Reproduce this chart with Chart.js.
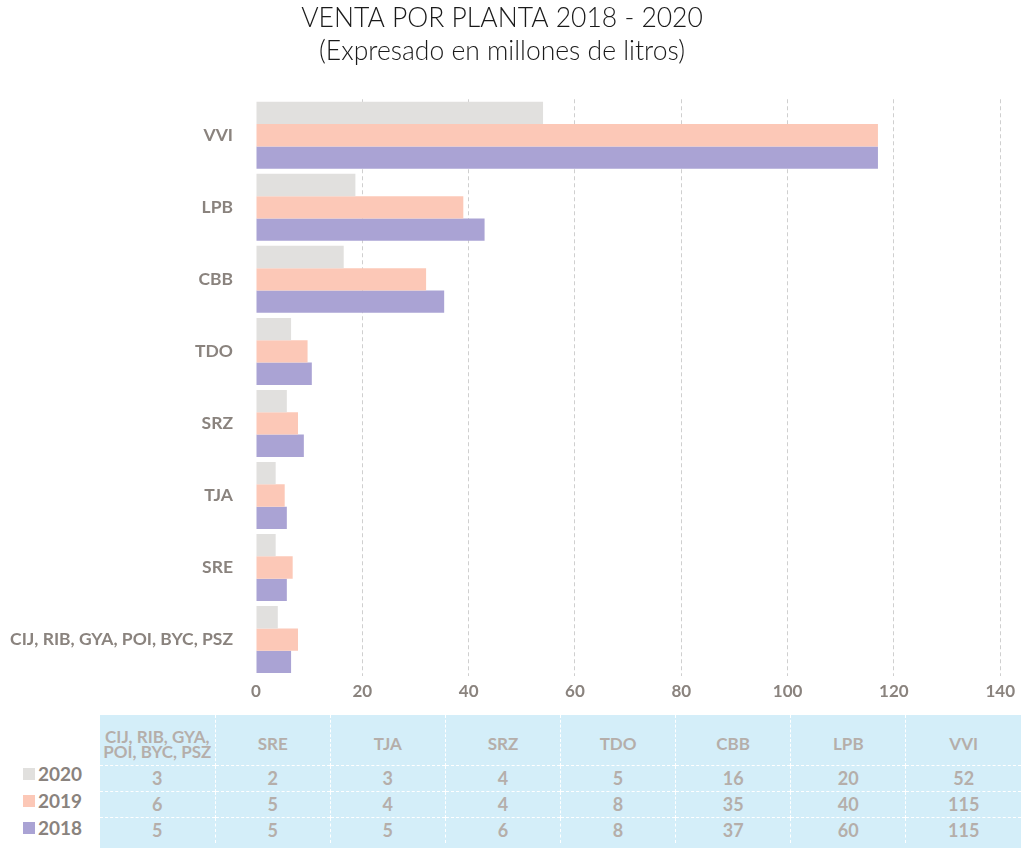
<!DOCTYPE html>
<html>
<head>
<meta charset="utf-8">
<script src="https://cdn.jsdelivr.net/npm/chart.js@4/dist/chart.umd.min.js"></script>
<style>
  body { margin: 0; background: #fff; font-family: Lato, sans-serif; }
  #wrap { position: absolute; left: 0; top: 0; width: 1021px; height: 710px; }
  #tbl { position: absolute; left: 100px; top: 715px; width: 921px; height: 133px; background: #d4eef9; }
  #tbl table { border-collapse: collapse; width: 921px; table-layout: fixed; }
  #tbl td { text-align: center; color: #b5aeaa; font-weight: bold; font-size: 18px; padding: 0; line-height: 1; box-sizing: border-box; }
  #tbl tr.head td { height: 50px; font-size: 17px; line-height: 15px; vertical-align: middle; padding-top: 8px; }
  #tbl tr.val td { height: 26px; border-top: 1px dashed #fff; }
  #tbl td + td { border-left: 1px dashed #fff; }
  #legend { position: absolute; left: 23px; top: 760px; }
  .item { height: 27px; display: flex; align-items: center; font-weight: bold; font-size: 19px; color: #8a837e; }
  .sw { width: 12px; height: 12px; margin-right: 3px; }
</style>
</head>
<body>
<div id="wrap"><canvas id="chart" width="1021" height="710"></canvas></div>
<div id="legend"></div>
<div id="tbl"></div>
<script>
const categories = ['VVI', 'LPB', 'CBB', 'TDO', 'SRZ', 'TJA', 'SRE', 'CIJ, RIB, GYA, POI, BYC, PSZ'];
const tableHeads = ['VVI', 'LPB', 'CBB', 'TDO', 'SRZ', 'TJA', 'SRE', 'CIJ, RIB, GYA,<br>POI, BYC, PSZ'];
const years = ['2020', '2019', '2018'];
const colors = ['#e1e0de', '#fcc8b7', '#aaa3d4'];

// bar lengths as drawn
const sales2020 = [54, 18.7, 16.5, 6.6, 5.8, 3.7, 3.7, 4.1];
const sales2019 = [117, 39, 32, 9.7, 7.9, 5.4, 6.9, 7.9];
const sales2018 = [117, 43, 35.4, 10.5, 9, 5.8, 5.8, 6.6];

// numbers printed in the table under the chart
const table2020 = [52, 20, 16, 5, 4, 3, 2, 3];
const table2019 = [115, 40, 35, 8, 4, 4, 5, 6];
const table2018 = [115, 60, 37, 8, 6, 5, 5, 5];

const xTicks = [0, 20, 40, 60, 80, 100, 120, 140];

const series = [sales2020, sales2019, sales2018];
const tables = [table2020, table2019, table2018];

const ctx = document.getElementById('chart').getContext('2d');
const chart = new Chart(ctx, {
  type: 'bar',
  data: {
    labels: categories,
    datasets: years.map((y, i) => ({
      label: y,
      data: series[i],
      backgroundColor: colors[i],
      barPercentage: 1,
      categoryPercentage: 0.93
    }))
  },
  options: {
    indexAxis: 'y',
    responsive: false,
    animation: false,
    layout: { padding: { right: 17, bottom: 2, left: 0 } },
    plugins: {
      legend: { display: false },
      tooltip: { enabled: false },
      title: {
        display: true,
        text: ['VENTA POR PLANTA 2018 - 2020', '(Expresado en millones de litros)'],
        color: '#1a1a1a',
        font: { family: 'Lato', size: 26.5, weight: '300', lineHeight: 1.25 },
        padding: { top: 2, bottom: 31 }
      }
    },
    scales: {
      x: {
        min: 0,
        max: 140,
        afterBuildTicks: s => { s.ticks = xTicks.map(v => ({ value: v })); },
        grid: {
          color: c => c.tick && c.tick.value === 0 ? 'rgba(0,0,0,0)' : '#cfcfcf',
          drawTicks: false
        },
        border: { display: false, dash: [4, 3] },
        ticks: {
          color: '#8a837e',
          padding: 6,
          font: { family: 'Lato', size: 17, weight: 'bold' }
        }
      },
      y: {
        afterFit: s => { s.width = 256; },
        grid: { display: false, drawTicks: false },
        border: { display: false },
        ticks: {
          color: '#8a837e',
          padding: 23,
          font: { family: 'Lato', size: 17.5, weight: 'bold' }
        }
      }
    }
  }
});

// legend on the left of the table
const legend = document.getElementById('legend');
years.forEach((y, i) => {
  legend.innerHTML += '<div class="item"><span class="sw" style="background:' + colors[i] + '"></span>' + y + '</div>';
});

// table, columns in reverse category order
let html = '<table><tr class="head">';
for (let j = categories.length - 1; j >= 0; j--) html += '<td>' + tableHeads[j] + '</td>';
html += '</tr>';
tables.forEach(row => {
  html += '<tr class="val">';
  for (let j = row.length - 1; j >= 0; j--) html += '<td>' + row[j] + '</td>';
  html += '</tr>';
});
html += '</table>';
document.getElementById('tbl').innerHTML = html;
</script>
</body>
</html>
